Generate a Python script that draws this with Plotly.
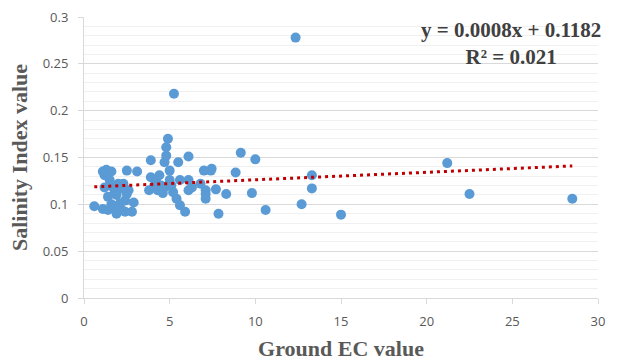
import plotly.graph_objects as go

# Ground EC value (x) and Salinity Index value (y)
ec_values = [0.6, 1.1, 1.1, 1.2, 1.3, 1.4, 1.4, 1.5, 1.6, 1.6, 1.7, 1.8, 1.9, 1.9, 2.0, 2.1, 2.2, 2.3,
             2.4, 2.4, 2.5, 2.5, 2.6, 2.8, 2.9, 3.1, 1.2, 1.8, 2.2,
             3.8, 3.9, 3.9, 4.1, 4.2, 4.3, 4.4, 4.5, 4.6, 4.7, 4.7, 4.8, 4.8, 4.9, 5.0, 5.0, 5.1, 5.2,
             5.25, 5.4, 5.5, 5.6, 5.6, 5.9, 6.1, 6.1, 6.1, 6.3, 6.8, 7.0, 7.1, 7.1, 7.1, 7.45, 7.4,
             7.7, 7.85, 8.3, 8.85, 9.15, 9.8, 10.0, 10.6, 12.35, 12.7, 13.3, 13.3, 15.0, 21.2, 22.5, 28.5]
si_values = [0.098, 0.095, 0.135, 0.131, 0.137, 0.108, 0.094, 0.126, 0.135, 0.100, 0.118, 0.113, 0.110, 0.090,
             0.122, 0.101, 0.094, 0.122, 0.104, 0.092, 0.111, 0.136, 0.115, 0.092, 0.102, 0.135, 0.118, 0.098, 0.117,
             0.115, 0.129, 0.147, 0.120, 0.125, 0.115, 0.131, 0.120, 0.112, 0.145, 0.118, 0.152, 0.161, 0.170,
             0.136, 0.126, 0.120, 0.113, 0.218, 0.106, 0.145, 0.099, 0.126, 0.092, 0.151, 0.126, 0.115, 0.118,
             0.122, 0.136, 0.111, 0.106, 0.115, 0.138, 0.136,
             0.116, 0.090, 0.111, 0.134, 0.155, 0.112, 0.148, 0.094, 0.278, 0.100, 0.131, 0.117, 0.089,
             0.144, 0.111, 0.106]

trend_slope = 0.0008
trend_intercept = 0.1182
trend_r2 = 0.021

x_ticks = [0, 5, 10, 15, 20, 25, 30]
y_ticks = [0, 0.05, 0.1, 0.15, 0.2, 0.25, 0.3]
y_tick_labels = ["0", "0.05", "0.1", "0.15", "0.2", "0.25", "0.3"]

x_min, x_max = min(ec_values), max(ec_values)
trend_x = [x_min, x_max]
trend_y = [trend_intercept + trend_slope * v for v in trend_x]

fig = go.Figure()
fig.add_trace(go.Scatter(
    x=ec_values, y=si_values, mode="markers",
    marker=dict(color="#5B9BD5", size=10, line=dict(width=0)),
    showlegend=False, hoverinfo="x+y"))
fig.add_trace(go.Scatter(
    x=trend_x, y=trend_y, mode="lines",
    line=dict(color="#C00000", width=3, dash="3px,4px"),
    showlegend=False, hoverinfo="skip"))

tick_font = dict(family="'Open Sans', Lato, sans-serif", size=13, color="#595959")
title_font = dict(family="'Liberation Serif', 'Times New Roman', serif", size=22, color="#595959")

fig.update_layout(
    width=618, height=361,
    margin=dict(l=84, r=20, t=17, b=63, autoexpand=False),
    paper_bgcolor="white", plot_bgcolor="white",
    xaxis=dict(
        range=[0, 30], tickvals=x_ticks, ticktext=[str(v) for v in x_ticks],
        showgrid=False, zeroline=False, automargin=False,
        showline=True, linecolor="#D9D9D9", linewidth=1,
        ticks="outside", ticklen=5, tickcolor="#D9D9D9",
        tickfont=tick_font, ticklabelstandoff=6,
        title=dict(text="<b>Ground EC value</b>", font=title_font, standoff=12),
    ),
    yaxis=dict(
        range=[0, 0.3], tickvals=y_ticks, ticktext=y_tick_labels,
        showgrid=True, gridcolor="#D9D9D9", gridwidth=1,
        minor=dict(dtick=0.01, showgrid=True, gridcolor="#F0F0F0", gridwidth=1),
        zeroline=False, automargin=False,
        showline=True, linecolor="#D9D9D9", linewidth=1,
        ticks="outside", ticklen=5, tickcolor="#D9D9D9",
        tickfont=tick_font, ticklabelstandoff=7,
        title=dict(text="<b>Salinity Index value</b>", font=title_font, standoff=8),
    ),
    annotations=[dict(
        xref="paper", yref="paper", x=0.83, y=0.905, xanchor="center", yanchor="middle",
        text=f"<b>y = {trend_slope}x + {trend_intercept}<br>R² = {trend_r2}</b>",
        align="center", showarrow=False,
        font=dict(family="'Liberation Serif', 'Times New Roman', serif", size=21, color="#404040"),
    )],
)

fig.write_html("out.html", config={"displayModeBar": False},
               post_script="document.body.style.margin='0';")
